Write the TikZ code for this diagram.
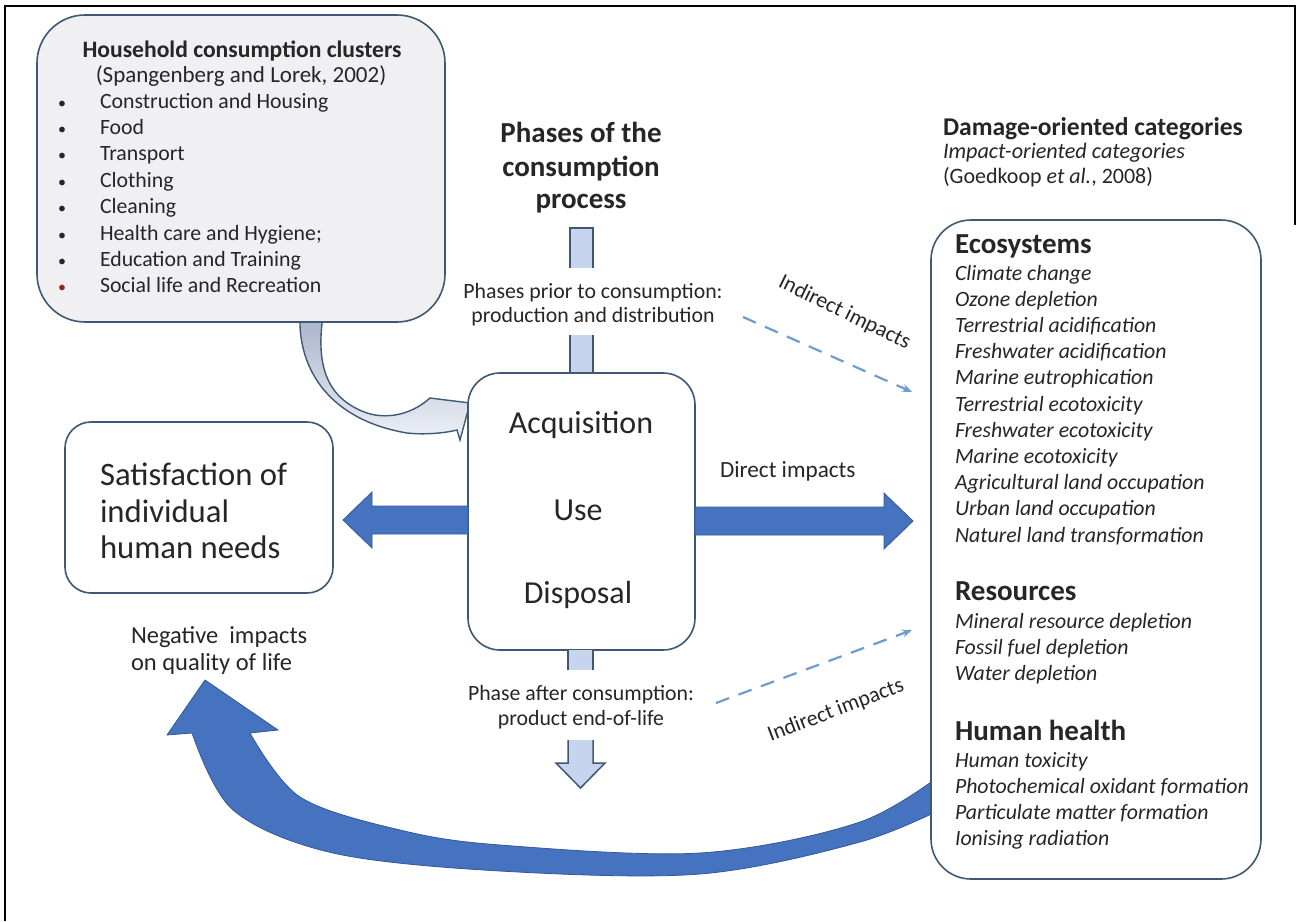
\documentclass[tikz,border=0pt]{standalone}
\usepackage{fontspec}
\setmainfont{Carlito}
\usetikzlibrary{arrows.meta,calc}
\definecolor{boxline}{HTML}{3F5873}
\definecolor{bigblue}{HTML}{4573BF}
\definecolor{bigblueline}{HTML}{34589A}
\definecolor{dashblue}{HTML}{6E9BD0}
\definecolor{lightfill}{HTML}{F0F0F2}
\definecolor{barfill}{HTML}{C6D4EE}
\definecolor{calltop}{HTML}{A9B3CB}
\definecolor{callbot}{HTML}{EEF1F7}
\definecolor{txt}{HTML}{262626}
\definecolor{redbullet}{HTML}{A02020}
\newcommand\FS[1]{\fontsize{#1}{#1}\selectfont}
\begin{document}
\begin{tikzpicture}[x=1pt,y=-1pt,
  every node/.style={inner sep=0pt, outer sep=0pt, text=txt},
  rbox/.style={draw=boxline, line width=1.6pt, rounded corners=#1},
  blockarrow/.style={fill=bigblue, draw=bigblueline, line width=0.8pt},
  barside/.style={draw=boxline, line width=1.5pt},
  dasharrow/.style={draw=dashblue, line width=2.2pt, dash pattern=on 14pt off 10pt, -{Stealth[length=10pt,width=8pt]}},
  itemtxt/.style={anchor=base west, font=\FS{21.8}},
  cattxt/.style={anchor=base west, font=\FS{21.8}\itshape},
  cathead/.style={anchor=base west, font=\FS{29}\bfseries},
  phtxt/.style={anchor=base, font=\FS{21.8}},
]
\useasboundingbox (0,0) rectangle (1298,921);
\fill[white] (0,0) rectangle (1298,921);
% frame
\draw[line width=2.5pt] (5,921) -- (5,6) -- (1295,6) -- (1295,225);

% ---------- callout arrow from household box to centre box
\coordinate (cA) at (300,316);
\coordinate (cB) at (323,316);
\coordinate (cTip) at (470,403);
\shade[top color=calltop, bottom color=callbot, draw=boxline, line width=1.4pt]
  (cA) .. controls (298,370) and (330,420) .. (407,433)
  .. controls (425,435) and (445,433) .. (457,430)
  -- (460,440) -- (cTip) -- (430,398)
  .. controls (410,416) and (385,419) .. (367,413)
  .. controls (330,400) and (315,370) .. (cB) -- cycle;

% ---------- household box
\node[rbox=48, fill=lightfill, minimum width=408pt, minimum height=307pt] (hh) at (241,168.5) {};
\node[anchor=base, font=\FS{23.6}\bfseries] (hhT) at (242,57) {Household consumption clusters};
\node[anchor=base, font=\FS{23}] (hhS) at (241,82) {(Spangenberg and Lorek, 2002)};
\foreach \t [count=\i from 0] in {Construction and Housing,Food,Transport,Clothing,Cleaning,Health care and Hygiene;,Education and Training}{
  \node[itemtxt] (hi\i) at (100,108+26.4*\i) {\t};
  \node[anchor=base, font=\FS{16}] (hb\i) at (62,108+26.4*\i) {•};
}
\node[itemtxt] (hi7) at (100,108+26.4*7) {Social life and Recreation};
\node[anchor=base, font=\FS{16}, text=redbullet] (hb7) at (62,108+26.4*7) {•};

% ---------- phases title
\node[anchor=base, font=\FS{29}\bfseries] (ph1) at (581,142) {Phases of the};
\node[anchor=base, font=\FS{29}\bfseries] (ph2) at (581,176) {consumption};
\node[anchor=base, font=\FS{29}\bfseries] (ph3) at (581,208) {process};

% upper bar
\fill[barfill] (570,228) rectangle (593,268);
\draw[barside] (570,268) -- (570,228) -- (593,228) -- (593,268);
\fill[barfill] (570,335) rectangle (593,375);
\draw[barside] (570,335) -- (570,375) (593,335) -- (593,375);

\node[phtxt] (pp1) at (593,298) {Phases prior to consumption:};
\node[phtxt] (pp2) at (593,322) {production and distribution};

% ---------- big curved arrow (bottom)
\fill[blockarrow]
  (192,733) -- plot[smooth, tension=0.55] coordinates {(192,733) (233,810) (333,853) (500,871) (700,874) (860,842) (950,805)}
  -- (950,768)
  -- plot[smooth, tension=0.55] coordinates {(950,768) (860,822) (700,853) (500,845) (400,830) (300,797) (250,733)}
  -- (278,730) -- (205,680) -- (167,735) -- cycle;

% ---------- centre box
\node[rbox=32, fill=white, minimum width=227pt, minimum height=277pt] (ctr) at (581.5,511.5) {};
\node[anchor=base, font=\FS{32}] (acq) at (581,433) {Acquisition};
\node[anchor=base, font=\FS{32}] (use) at (578,520) {Use};
\node[anchor=base, font=\FS{32}] (dis) at (578,603) {Disposal};

% bottom bar + arrow
\fill[barfill] (568,650) rectangle (593,670);
\draw[barside] (568,650) -- (568,670) (593,650) -- (593,670);
\node[phtxt] (pa1) at (581,700) {Phase after consumption:};
\node[phtxt] (pa2) at (581,725) {product end-of-life};
\filldraw[fill=barfill, draw=boxline, line width=1.5pt]
  (568,740) -- (568,763) -- (556,763) -- (580.5,788) -- (605,763) -- (593,763) -- (593,740);

% ---------- satisfaction box
\node[rbox=26, fill=white, minimum width=268pt, minimum height=171pt] (sat) at (199,507.5) {};
\node[anchor=base west, font=\FS{32.7}] (s1) at (100,485) {Satisfaction of};
\node[anchor=base west, font=\FS{32.7}] (s2) at (100,522) {individual};
\node[anchor=base west, font=\FS{32.7}] (s3) at (100,558) {human needs};

% left block arrow
\filldraw[blockarrow] (ctr.west |- 0,506) -- (372,506) -- (372,492) -- (343,520) -- (372,548) -- (372,534) -- (ctr.west |- 0,534) -- cycle;
% right block arrow
\filldraw[blockarrow] (ctr.east |- 0,507) -- (884,507) -- (884,493) -- (913,521) -- (884,549) -- (884,535) -- (ctr.east |- 0,535) -- cycle;
\node[anchor=base west, font=\FS{23.2}] (dir) at (720,477) {Direct impacts};

\node[anchor=base west, font=\FS{24.5}] (neg1) at (131,643) {Negative\ \ impacts};
\node[anchor=base west, font=\FS{24.5}] (neg2) at (131,670) {on quality of life};

% ---------- right box
\node[rbox=40, fill=white, minimum width=330pt, minimum height=659pt] (cat) at (1096,549.5) {};
\node[anchor=base west, font=\FS{25.6}\bfseries] (dm1) at (943,135) {Damage-oriented categories};
\node[anchor=base west, font=\FS{22.2}\itshape] (dm2) at (943,158) {Impact-oriented categories};
\node[anchor=base west, font=\FS{22}] (dm3) at (943,183) {(Goedkoop \textit{et al.}, 2008)};

\node[cathead] (eco) at (955,253) {Ecosystems};
\foreach \t [count=\i from 0] in {Climate change,Ozone depletion,Terrestrial acidification,Freshwater acidification,Marine eutrophication,Terrestrial ecotoxicity,Freshwater ecotoxicity,Marine ecotoxicity,Agricultural land occupation,Urban land occupation,Naturel land transformation}{
  \node[cattxt] (e\i) at (955,280+26.2*\i) {\t};
}
\node[cathead] (res) at (955,600) {Resources};
\foreach \t [count=\i from 0] in {Mineral resource depletion,Fossil fuel depletion,Water depletion}{
  \node[cattxt] (r\i) at (955,628+26*\i) {\t};
}
\node[cathead] (hum) at (955,740) {Human health};
\foreach \t [count=\i from 0] in {Human toxicity,Photochemical oxidant formation,Particulate matter formation,Ionising radiation}{
  \node[cattxt] (h\i) at (955,767+26.3*\i) {\t};
}

% ---------- dashed indirect arrows
\coordinate (d1s) at (743,317);
\coordinate (d1e) at (912,392);
\draw[dasharrow] (d1s) -- (d1e);
\node[font=\FS{22}, rotate=-26, anchor=base] (ind1) at (842,318) {Indirect impacts};
\coordinate (d2s) at (716,703);
\coordinate (d2e) at (912,630);
\draw[dasharrow] (d2s) -- (d2e);
\node[font=\FS{22}, rotate=21, anchor=base] (ind2) at (838,716) {Indirect impacts};
\end{tikzpicture}
\end{document}
